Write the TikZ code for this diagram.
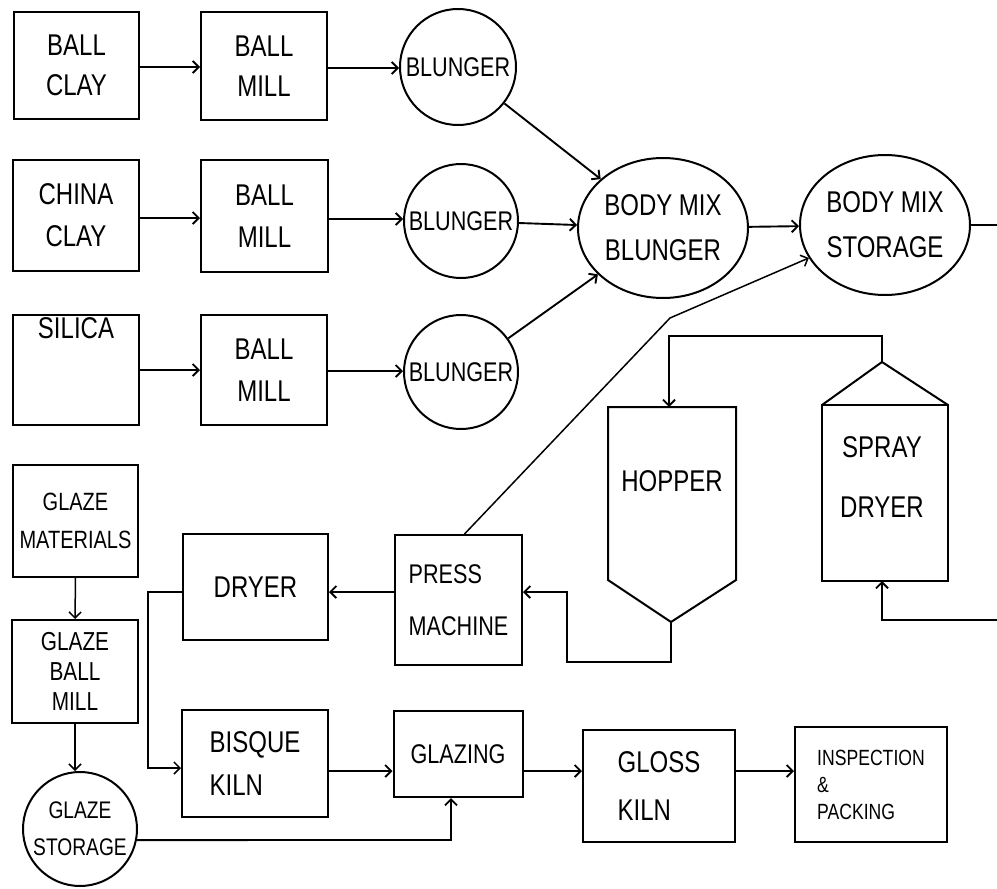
\documentclass[tikz,border=0pt]{standalone}
\usepackage{fontspec}
\setmainfont[FakeStretch=0.8]{Liberation Sans}
\usetikzlibrary{arrows.meta,shapes.geometric}
\newcommand\lblsize[2]{\fontsize{#1}{#2}\selectfont}
\begin{document}
\begin{tikzpicture}[x=1pt,y=-1pt,
  box/.style={draw,line width=2pt,inner sep=0pt,align=center},
  circ/.style={draw,circle,line width=2pt,inner sep=0pt,align=center},
  ell/.style={draw,ellipse,line width=2pt,inner sep=0pt,align=center},
  lbl/.style={inner sep=0pt,align=center},
  flow/.style={line width=1.9pt,-{Straight Barb[length=6pt,width=12pt,line width=1.9pt]}},
  thinflow/.style={line width=1.5pt,-{Straight Barb[length=6pt,width=12pt,line width=1.5pt]}},
  plain/.style={line width=1.9pt}]
\useasboundingbox (0,0) rectangle (997,889);

% ---- row 1
\node[box,minimum width=125pt,minimum height=107pt,font=\lblsize{30}{40}] (bc) at (76.5,65.5) {BALL\\CLAY};
\node[box,minimum width=126pt,minimum height=108pt,font=\lblsize{30}{40}] (bm1) at (264,66) {BALL\\MILL};
\node[circ,minimum size=116pt,font=\lblsize{27}{30}] (bl1) at (458,67) {BLUNGER};
% ---- row 2
\node[box,minimum width=126pt,minimum height=111pt,font=\lblsize{30}{42}] (cc) at (76,215.5) {CHINA\\CLAY};
\node[box,minimum width=127pt,minimum height=112pt,font=\lblsize{30}{42}] (bm2) at (264.5,216) {BALL\\MILL};
\node[circ,minimum size=114pt,font=\lblsize{27}{30}] (bl2) at (461,221) {BLUNGER};
% ---- row 3
\node[box,minimum width=126pt,minimum height=110pt,font=\lblsize{30}{42}] (si) at (76,370) {SILICA\\[42pt]};
\node[box,minimum width=126pt,minimum height=110pt,font=\lblsize{30}{42}] (bm3) at (264,370) {BALL\\MILL};
\node[circ,minimum size=114pt,font=\lblsize{27}{30}] (bl3) at (461,372) {BLUNGER};

% ---- body mix
\node[ell,minimum width=170pt,minimum height=140pt,font=\lblsize{30}{45}] (bmb) at (663,228) {BODY MIX\\BLUNGER};
\node[ell,minimum width=170pt,minimum height=140pt,font=\lblsize{30}{45}] (bms) at (885,225) {BODY MIX\\STORAGE};
\coordinate (out1) at (997,225);

% ---- hopper and spray dryer
\draw[line width=2pt] (608,407) -- (736,407) -- (736,580) -- (671,622) -- (608,580) -- cycle;
\coordinate (hoptop) at (669,407);
\coordinate (hopbot) at (671,622);
\node[lbl,font=\lblsize{30}{34}] (hoplbl) at (672,481) {HOPPER};
\draw[line width=2pt] (822,405) rectangle (948,581);
\draw[line width=2pt] (822,405) -- (882,362) -- (948,405);
\coordinate (sdapex) at (882,362);
\coordinate (sdbot) at (882,581);
\node[lbl,font=\lblsize{30}{60}] (sdlbl) at (882,477) {SPRAY\\DRYER};
\coordinate (feedR) at (882,336);
\coordinate (feedL) at (669,336);
\coordinate (sdB) at (882,620);
\coordinate (out2) at (997,620);

% ---- press and dryer
\node[box,minimum width=127pt,minimum height=130pt,font=\lblsize{27}{52},align=left] (press) at (458.5,600) {PRESS\\MACHINE};
\node[box,minimum width=145pt,minimum height=106pt,font=\lblsize{30}{34}] (dryer) at (255.5,587) {DRYER};
\coordinate (pbend) at (670,318);
\coordinate (hA) at (671,662);
\coordinate (hB) at (567,662);
\coordinate (hC) at (567,592);
\coordinate (dA) at (148,592);
\coordinate (dB) at (148,768);

% ---- glaze line
\node[box,minimum width=125pt,minimum height=112pt,font=\lblsize{25}{38}] (gm) at (75.5,521) {GLAZE\\MATERIALS};
\node[box,minimum width=126pt,minimum height=103pt,font=\lblsize{26}{30}] (gbm) at (75,671.5) {GLAZE\\BALL\\MILL};
\node[circ,minimum size=114pt,font=\lblsize{24}{37}] (gs) at (80,829) {GLAZE\\STORAGE};
\coordinate (gE) at (451,840);

% ---- bottom row
\node[box,minimum width=146pt,minimum height=107pt,font=\lblsize{30}{43},align=left] (bk) at (255,763.5) {BISQUE\\KILN};
\node[box,minimum width=129pt,minimum height=86pt,font=\lblsize{27}{30}] (glz) at (458,754) {GLAZING};
\node[box,minimum width=152pt,minimum height=112pt,font=\lblsize{30}{48},align=left] (gk) at (659,786) {GLOSS\\KILN};
\node[box,minimum width=152pt,minimum height=115pt,font=\lblsize{22}{27},align=left] (ip) at (871,784.5) {INSPECTION\\\&\\PACKING};
\coordinate (r4) at (0,771);

% ---- connectors
\draw[flow] (bc.east |- 0,67) -- (bm1.west |- 0,67);
\draw[flow] (bm1.east |- 0,68) -- (bl1.west |- 0,68);
\draw[flow] (cc.east |- 0,218) -- (bm2.west |- 0,218);
\draw[flow] (bm2.east |- 0,219) -- (bl2.west |- 0,219);
\draw[flow] (si.east |- 0,370) -- (bm3.west |- 0,370);
\draw[flow] (bm3.east |- 0,371) -- (bl3.west |- 0,371);
\draw[flow] (bl1) -- (bmb);
\draw[flow] (bl2) -- (bmb);
\draw[flow] (bl3) -- (bmb);
\draw[flow] (bmb) -- (bms);
\draw[plain] (bms.east) -- (out1);
\draw[thinflow] ([xshift=6pt]press.north) -- (pbend) -- (bms);
\draw[flow] (sdapex) -- (feedR) -- (feedL) -- (hoptop);
\draw[flow] (hopbot) -- (hA) -- (hB) -- (hC) -- (hC -| press.east);
\draw[flow] (press.west |- hC) -- (dryer.east |- hC);
\draw[thinflow] (dryer.west |- hC) -- (dA) -- (dB) -- (dB -| bk.west);
\draw[flow] (bk.east |- r4) -- (glz.west |- r4);
\draw[flow] (glz.east |- r4) -- (gk.west |- r4);
\draw[flow] (gk.east |- r4) -- (ip.west |- r4);
\draw[thinflow] (gm.south) -- (gbm.north);
\draw[thinflow] (gbm.south) -- (gbm.south |- gs.north);
\draw[flow] (gs.-11) -- (gE) -- (gE |- glz.south);
\draw[flow] (out2) -- (sdB) -- (sdbot);
\end{tikzpicture}
\end{document}
